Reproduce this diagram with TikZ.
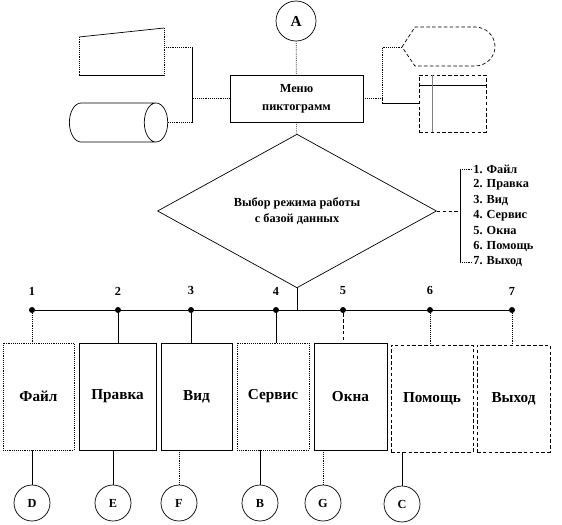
\documentclass[tikz,border=0pt]{standalone}
\usepackage{fontspec}
\setmainfont{Liberation Serif}
\usetikzlibrary{positioning,shapes.geometric,calc}

\begin{document}
\begin{tikzpicture}[
  x=0.03cm, y=-0.03cm,  % 1 unit = 1 px of the layout, y grows downward
  line width=0.6pt,
  font=\bfseries\fontsize{10.5}{12}\selectfont,
  block/.style={draw, minimum height=3.21cm, inner sep=1pt,
    font=\bfseries\fontsize{13}{15}\selectfont},
  conn/.style={draw, circle, minimum size=1.08cm, inner sep=0pt},
  dot/.style={circle, fill, inner sep=0pt, minimum size=0.18cm},
  link/.style={densely dotted},
]
  \useasboundingbox (0,0) rectangle (562,524);

  % Connector A and icon menu
  \node[conn, minimum size=1.2cm, font=\bfseries\fontsize{13}{15}\selectfont] (A) at (296,21) {A};
  \node[draw, minimum width=3.99cm, minimum height=1.41cm, align=center] (menu)
    at (296.5,98.5) {Меню\\[3pt]пиктограмм};

  % Left icons: manual input and drum
  \coordinate (t1) at (79,37);
  \coordinate (t2) at (164,28);
  \coordinate (t3) at (164,75);
  \coordinate (t4) at (79,75);
  \draw (t1) -- (t2);
  \draw[link] (t2) -- (t3);
  \draw (t3) -- (t4);
  \draw[link] (t4) -- (t1);
  \coordinate (trapR) at (164,47);
  \node[draw, cylinder, minimum height=2.95cm, minimum width=1.17cm, aspect=3] (drum)
    at (109,122.5) {};

  % Right icons: display and internal storage
  \draw[densely dashed] (402,47) coordinate (dispL) -- (415,27) -- (475,27)
    arc[start angle=-90, end angle=90, x radius=20, y radius=19.5] -- (415,66) -- cycle;
  \node[draw, densely dashed, minimum width=2.01cm, minimum height=1.71cm] (store)
    at (452.5,103.5) {};
  \draw ($(store.north west)+(0,11)$) -- ($(store.north east)+(0,11)$);
  \draw[gray] ($(store.north west)+(14,0)$) -- ($(store.south west)+(14,0)$);

  % Icon connectors
  \draw[link] (A) -- (menu);
  \draw[link] (menu.west) -- ++(-37,0) coordinate (lj);
  \draw (lj |- trapR) -- (lj |- drum.east);
  \draw[link] (trapR) -- (lj |- trapR);
  \draw[link] (drum.east) -- (lj |- drum.east);
  \draw[link] (menu.east) -- ++(19,0) coordinate (rj);
  \draw[link] (dispL) -| (rj |- store.west);
  \draw (rj |- store.west) -- (store.west);

  % Mode selection
  \node[draw, diamond, minimum width=8.37cm, minimum height=3.75cm, inner sep=0pt,
    align=center] (mode) at (297,211) {Выбор режима работы\\[2pt]с базой данных};
  \draw[link] (menu) -- (mode);

  % Item list
  \foreach \i/\t in {1/Файл,2/Правка,3/Вид,4/Сервис,5/Окна,6/Помощь,7/Выход}
    \node[anchor=west, inner sep=0pt] (l\i) at (473,{169+15.5*(\i-1)}) {\i. \t};
  \coordinate (br) at (460,211);
  \draw[densely dashed] (mode.east) -- (br);
  \draw (br |- l1) -- (br |- l7);
  \draw[link] (br |- l1) -- (l1.west);
  \draw[link] (br |- l7) -- (l7.west);

  % Bus
  \coordinate (bj) at (297,310);
  \draw (mode.south) -- (bj);
  \foreach \n/\x in {1/32,2/118,3/191,4/276,5/343,6/430,7/512}
    \node[dot, label={[label distance=0.22cm]above:\n}] (d\n) at (\x,310) {};
  \draw (d1) -- (d7);

  % Function blocks
  \node[block, densely dotted, minimum width=2.13cm] (fajl) at (38.5,396.5) {Файл};
  \node[block, minimum width=2.31cm] (pravka) at (117.5,396.5) {Правка};
  \node[block, minimum width=2.13cm] (vid) at (196.5,396.5) {Вид};
  \node[block, densely dotted, minimum width=2.16cm] (servis) at (273,396.5) {Сервис};
  \node[block, minimum width=2.19cm] (okna) at (350.5,396.5) {Окна};
  \node[block, densely dashed, minimum width=2.46cm] (pomosch) at (432,398.5) {Помощь};
  \node[block, densely dashed, minimum width=2.19cm] (vyhod) at (513.5,398.5) {Выход};

  % Bus to blocks
  \draw[link] (d1) -- (d1 |- fajl.north);
  \draw (d2) -- (d2 |- pravka.north);
  \draw (d3) -- (d3 |- vid.north);
  \draw (d4) -- (d4 |- servis.north);
  \draw[densely dashed] (d5) -- (d5 |- okna.north);
  \draw[link] (d6) -- (d6 |- pomosch.north);
  \draw[link] (d7) -- (d7 |- vyhod.north);

  % Off-page connectors
  \node[conn] (D) at (32,503) {D};
  \node[conn] (E) at (113,503) {E};
  \node[conn] (F) at (179,503) {F};
  \node[conn] (B) at (260,503) {B};
  \node[conn] (G) at (323,503) {G};
  \node[conn] (C) at (402,504) {C};
  \draw (D) -- (D |- fajl.south);
  \draw (E) -- (E |- pravka.south);
  \draw[link] (F) -- (F |- vid.south);
  \draw (B) -- (B |- servis.south);
  \draw[link] (G) -- (G |- okna.south);
  \draw (C) -- (C |- pomosch.south);
\end{tikzpicture}
\end{document}
